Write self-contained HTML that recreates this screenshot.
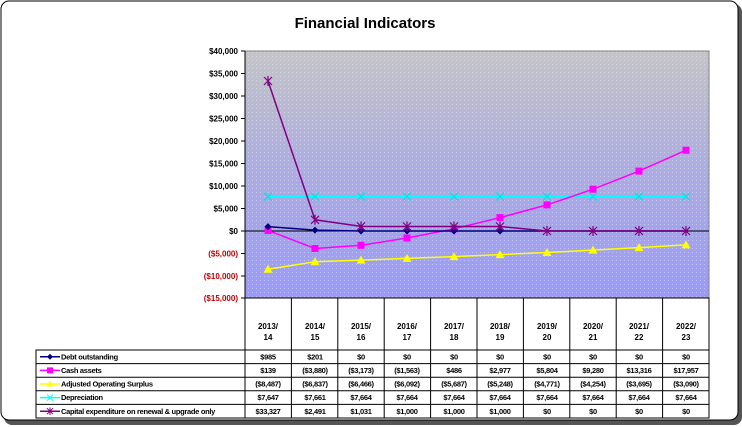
<!DOCTYPE html>
<html><head><meta charset="utf-8"><style>
html,body{margin:0;padding:0;background:#fff;}
svg{display:block;}
text{font-family:"Liberation Sans",Arial,sans-serif;}
</style></head><body>
<svg width="742" height="427" viewBox="0 0 742 427" xmlns="http://www.w3.org/2000/svg">
<defs>
<linearGradient id="bg" x1="0" y1="0" x2="0" y2="1">
<stop offset="0" stop-color="#c4c4c8"/>
<stop offset="0.45" stop-color="#aeaee0"/>
<stop offset="1" stop-color="#9a9af6"/>
</linearGradient>
<pattern id="dots" width="4" height="4" patternUnits="userSpaceOnUse">
<rect x="0" y="0" width="1" height="1" fill="#ffffff" opacity="0.35"/>
</pattern>
</defs>
<rect x="4" y="4" width="738" height="421" rx="8" fill="#555"/>
<rect x="1" y="1" width="737" height="419" rx="8" fill="#fff" stroke="#000" stroke-width="1"/>
<text x="365" y="28" text-anchor="middle" font-size="15" font-weight="bold">Financial Indicators</text>
<rect x="245" y="51" width="464" height="247" fill="url(#bg)"/>
<rect x="245" y="51" width="464" height="247" fill="url(#dots)"/>
<rect x="245" y="51" width="464" height="247" fill="none" stroke="#808080" stroke-width="1"/>
<line x1="245" y1="51" x2="245" y2="298" stroke="#000"/>
<line x1="245" y1="231" x2="709" y2="231" stroke="#000"/>
<g font-size="8" font-weight="bold" text-anchor="end">
<text x="238" y="54">$40,000</text>
<text x="238" y="76.5">$35,000</text>
<text x="238" y="99">$30,000</text>
<text x="238" y="121.5">$25,000</text>
<text x="238" y="144">$20,000</text>
<text x="238" y="166.5">$15,000</text>
<text x="238" y="189">$10,000</text>
<text x="238" y="211.5">$5,000</text>
<text x="238" y="234">$0</text>
<g fill="#c00000">
<text x="238" y="256.5">($5,000)</text>
<text x="238" y="279">($10,000)</text>
<text x="238" y="301">($15,000)</text>
</g>
</g>
<g stroke="#000">
<line x1="241" y1="51" x2="245" y2="51"/><line x1="241" y1="73.5" x2="245" y2="73.5"/>
<line x1="241" y1="96" x2="245" y2="96"/><line x1="241" y1="118.5" x2="245" y2="118.5"/>
<line x1="241" y1="141" x2="245" y2="141"/><line x1="241" y1="163.5" x2="245" y2="163.5"/>
<line x1="241" y1="186" x2="245" y2="186"/><line x1="241" y1="208.5" x2="245" y2="208.5"/>
<line x1="241" y1="231" x2="245" y2="231"/><line x1="241" y1="253.5" x2="245" y2="253.5"/>
<line x1="241" y1="276" x2="245" y2="276"/><line x1="241" y1="298" x2="245" y2="298"/>
</g>
<!-- Depreciation -->
<polyline fill="none" stroke="#00ffff" stroke-width="1.5" points="268,196.6 315,196.5 361,196.5 407,196.5 454,196.5 500,196.5 547,196.5 593,196.5 639,196.5 686,196.5"/>
<g stroke="#00e0e0" stroke-width="1.2">
<path d="M264,192.6l8,8M272,192.6l-8,8M311,192.5l8,8M319,192.5l-8,8M357,192.5l8,8M365,192.5l-8,8M403,192.5l8,8M411,192.5l-8,8M450,192.5l8,8M458,192.5l-8,8M496,192.5l8,8M504,192.5l-8,8M543,192.5l8,8M551,192.5l-8,8M589,192.5l8,8M597,192.5l-8,8M635,192.5l8,8M643,192.5l-8,8M682,192.5l8,8M690,192.5l-8,8"/>
</g>
<!-- Cash -->
<polyline fill="none" stroke="#ff00ff" stroke-width="1.5" points="268,230.4 315,248.5 361,245.3 407,238 454,228.8 500,217.6 547,204.9 593,189.2 639,171.1 686,150.2"/>
<g fill="#ff00ff">
<rect x="264.5" y="227" width="7" height="7"/><rect x="311.5" y="245" width="7" height="7"/><rect x="357.5" y="241.8" width="7" height="7"/><rect x="403.5" y="234.5" width="7" height="7"/><rect x="450.5" y="225.3" width="7" height="7"/><rect x="496.5" y="214.1" width="7" height="7"/><rect x="543.5" y="201.4" width="7" height="7"/><rect x="589.5" y="185.7" width="7" height="7"/><rect x="635.5" y="167.6" width="7" height="7"/><rect x="682.5" y="146.7" width="7" height="7"/>
</g>
<!-- Adjusted -->
<polyline fill="none" stroke="#ffff00" stroke-width="1.5" points="268,269.2 315,261.8 361,260.1 407,258.4 454,256.6 500,254.6 547,252.5 593,250.1 639,247.6 686,244.9"/>
<g fill="#ffff00">
<path d="M268,264.7l4.5,8h-9z M315,257.3l4.5,8h-9z M361,255.6l4.5,8h-9z M407,253.9l4.5,8h-9z M454,252.1l4.5,8h-9z M500,250.1l4.5,8h-9z M547,248l4.5,8h-9z M593,245.6l4.5,8h-9z M639,243.1l4.5,8h-9z M686,240.4l4.5,8h-9z"/>
</g>
<!-- Debt -->
<polyline fill="none" stroke="#000080" stroke-width="1.5" points="268,226.6 315,230.1 361,231 407,231 454,231 500,231 547,231 593,231 639,231 686,231"/>
<g fill="#000080">
<path d="M268,223.1l3.5,3.5l-3.5,3.5l-3.5,-3.5z M315,226.6l3.5,3.5l-3.5,3.5l-3.5,-3.5z M361,227.5l3.5,3.5l-3.5,3.5l-3.5,-3.5z M407,227.5l3.5,3.5l-3.5,3.5l-3.5,-3.5z M454,227.5l3.5,3.5l-3.5,3.5l-3.5,-3.5z M500,227.5l3.5,3.5l-3.5,3.5l-3.5,-3.5z"/>
</g>
<!-- Capital -->
<polyline fill="none" stroke="#800080" stroke-width="1.5" points="268,81 315,219.8 361,226.4 407,226.5 454,226.5 500,226.5 547,231 593,231 639,231 686,231"/>
<g stroke="#800080" stroke-width="1.2">
<path d="M264,77l8,8M272,77l-8,8M268,76v10 M311,215.8l8,8M319,215.8l-8,8M315,214.8v10 M357,222.4l8,8M365,222.4l-8,8M361,221.4v10 M403,222.5l8,8M411,222.5l-8,8M407,221.5v10 M450,222.5l8,8M458,222.5l-8,8M454,221.5v10 M496,222.5l8,8M504,222.5l-8,8M500,221.5v10 M543,227l8,8M551,227l-8,8M547,226v10 M589,227l8,8M597,227l-8,8M593,226v10 M635,227l8,8M643,227l-8,8M639,226v10 M682,227l8,8M690,227l-8,8M686,226v10"/>
</g>
<!-- table -->
<g stroke="#000" stroke-width="1" fill="none">
<rect x="245" y="298" width="464" height="52"/>
<rect x="36" y="350" width="673" height="68"/>
<line x1="36" y1="363.6" x2="709" y2="363.6"/><line x1="36" y1="377.2" x2="709" y2="377.2"/>
<line x1="36" y1="390.8" x2="709" y2="390.8"/><line x1="36" y1="404.4" x2="709" y2="404.4"/>
<path d="M245,298V418M291.4,298V418M337.8,298V418M384.2,298V418M430.6,298V418M477,298V418M523.4,298V418M569.8,298V418M616.2,298V418M662.6,298V418"/>
</g>
<g font-size="8" font-weight="bold" text-anchor="middle">
<text x="268" y="329">2013/</text><text x="268" y="340">14</text>
<text x="315" y="329">2014/</text><text x="315" y="340">15</text>
<text x="361" y="329">2015/</text><text x="361" y="340">16</text>
<text x="407" y="329">2016/</text><text x="407" y="340">17</text>
<text x="454" y="329">2017/</text><text x="454" y="340">18</text>
<text x="500" y="329">2018/</text><text x="500" y="340">19</text>
<text x="547" y="329">2019/</text><text x="547" y="340">20</text>
<text x="593" y="329">2020/</text><text x="593" y="340">21</text>
<text x="639" y="329">2021/</text><text x="639" y="340">22</text>
<text x="686" y="329">2022/</text><text x="686" y="340">23</text>
</g>
<g font-size="7.5" font-weight="bold" text-anchor="middle" letter-spacing="-0.3">
<text x="268" y="359.5">$985</text><text x="315" y="359.5">$201</text><text x="361" y="359.5">$0</text><text x="407" y="359.5">$0</text><text x="454" y="359.5">$0</text><text x="500" y="359.5">$0</text><text x="547" y="359.5">$0</text><text x="593" y="359.5">$0</text><text x="639" y="359.5">$0</text><text x="686" y="359.5">$0</text>
<text x="268" y="373">$139</text><text x="315" y="373">($3,880)</text><text x="361" y="373">($3,173)</text><text x="407" y="373">($1,563)</text><text x="454" y="373">$486</text><text x="500" y="373">$2,977</text><text x="547" y="373">$5,804</text><text x="593" y="373">$9,280</text><text x="639" y="373">$13,316</text><text x="686" y="373">$17,957</text>
<text x="268" y="386.5">($8,487)</text><text x="315" y="386.5">($6,837)</text><text x="361" y="386.5">($6,466)</text><text x="407" y="386.5">($6,092)</text><text x="454" y="386.5">($5,687)</text><text x="500" y="386.5">($5,248)</text><text x="547" y="386.5">($4,771)</text><text x="593" y="386.5">($4,254)</text><text x="639" y="386.5">($3,695)</text><text x="686" y="386.5">($3,090)</text>
<text x="268" y="400">$7,647</text><text x="315" y="400">$7,661</text><text x="361" y="400">$7,664</text><text x="407" y="400">$7,664</text><text x="454" y="400">$7,664</text><text x="500" y="400">$7,664</text><text x="547" y="400">$7,664</text><text x="593" y="400">$7,664</text><text x="639" y="400">$7,664</text><text x="686" y="400">$7,664</text>
<text x="268" y="414">$33,327</text><text x="315" y="414">$2,491</text><text x="361" y="414">$1,031</text><text x="407" y="414">$1,000</text><text x="454" y="414">$1,000</text><text x="500" y="414">$1,000</text><text x="547" y="414">$0</text><text x="593" y="414">$0</text><text x="639" y="414">$0</text><text x="686" y="414">$0</text>
</g>
<g stroke-width="1.5">
<line x1="40" y1="356.8" x2="60" y2="356.8" stroke="#000080"/><path d="M50,353.8l3,3l-3,3l-3,-3z" fill="#000080"/>
<line x1="40" y1="370.4" x2="60" y2="370.4" stroke="#ff00ff"/><rect x="47" y="367.4" width="6" height="6" fill="#ff00ff"/>
<line x1="40" y1="384" x2="60" y2="384" stroke="#ffff00"/><path d="M50,380.5l3.5,6h-7z" fill="#ffff00"/>
<line x1="40" y1="397.6" x2="60" y2="397.6" stroke="#00ffff"/><path d="M47,394.6l6,6M53,394.6l-6,6" stroke="#00ffff" stroke-width="1"/>
<line x1="40" y1="411.2" x2="60" y2="411.2" stroke="#800080"/><path d="M47,408.2l6,6M53,408.2l-6,6M50,407.5v7.5" stroke="#800080" stroke-width="1"/>
</g>
<g font-size="7.5" font-weight="bold" letter-spacing="-0.3">
<text x="61" y="359.5">Debt outstanding</text>
<text x="61" y="373">Cash assets</text>
<text x="61" y="386.5">Adjusted Operating Surplus</text>
<text x="61" y="400">Depreciation</text>
<text x="61" y="414">Capital expenditure on renewal &amp; upgrade only</text>
</g>
</svg>
</body></html>
